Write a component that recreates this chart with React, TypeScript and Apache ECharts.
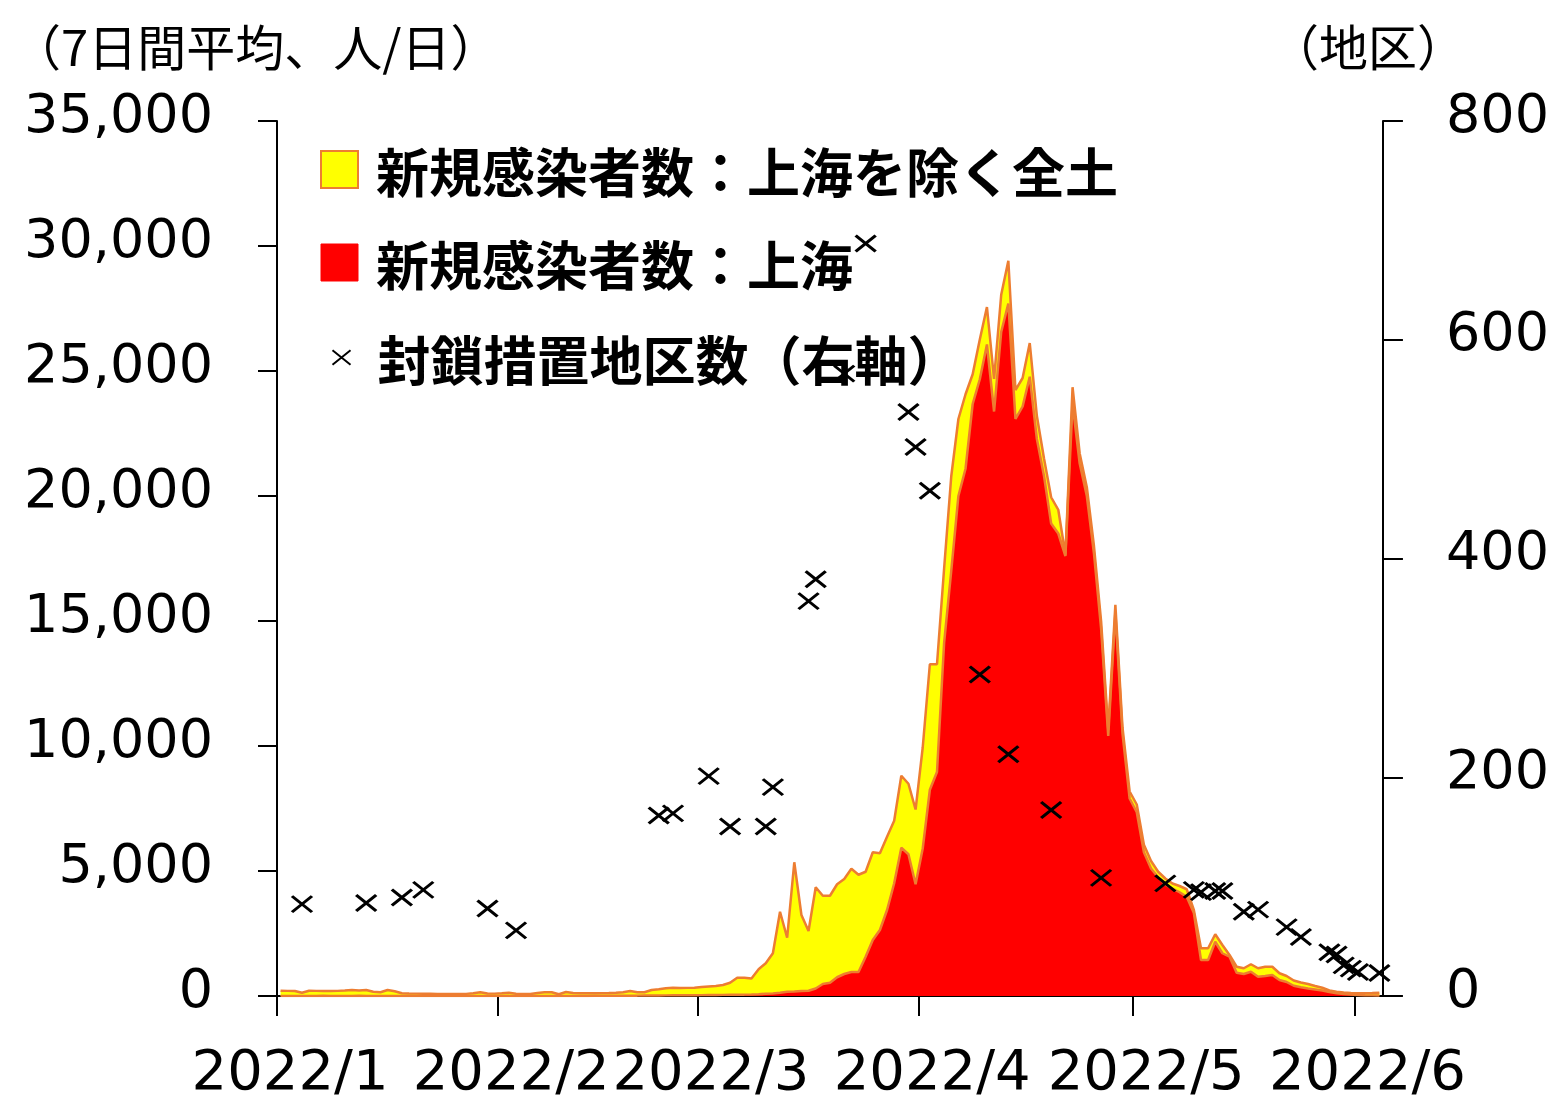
import React, { useEffect, useRef } from "react";
import * as echarts from "echarts";

// Day index 0 = 2022/1/1 ; each daily value sits at the middle of its day
const monthStartDays = [0, 31, 59, 90, 120, 151];
const monthLabels = ["2022/1", "2022/2", "2022/3", "2022/4", "2022/5", "2022/6"];

// 7-day average new cases, whole country (top edge of the stacked areas)
const totalCases = [
  210, 205, 200, 130, 210, 205, 200, 200, 205, 220,
  240, 220, 240, 170, 150, 240, 190, 110, 100, 95,
  90, 90, 85, 85, 85, 80, 85, 110, 150, 100,
  95, 110, 130, 90, 80, 80, 120, 150, 150, 70,
  160, 120, 110, 110, 110, 115, 120, 130, 150, 200,
  150, 150, 240, 270, 310, 330, 320, 325, 330, 360,
  380, 400, 440, 530, 730, 730, 700, 1070, 1310, 1710,
  3370, 2330, 5350, 3240, 2600, 4350, 4010, 4010, 4470, 4680,
  5090, 4850, 4970, 5750, 5710, 6370, 7010, 8810, 8490, 7460,
  9940, 13270, 13270, 17110, 20790, 23080, 24070, 24870, 26260, 27560,
  24680, 28050, 29410, 24240, 24720, 26120, 23200, 21500, 19950, 19450,
  17650, 24350, 21700, 20350, 18000, 15000, 10650, 15650, 10740, 8180,
  7660, 6050, 5400, 4970, 4700, 4500, 4400, 4270, 3440, 1910,
  1910, 2470, 2040, 1640, 1170, 1110, 1270, 1110, 1170, 1170,
  910, 800, 620, 540, 480, 400, 330, 220, 170, 140,
  120, 110, 115, 120, 130,
];

// 7-day average new cases, Shanghai
const shanghaiCases = [
  5, 5, 4, 4, 5, 5, 6, 5, 4, 5,
  5, 6, 5, 4, 4, 5, 5, 4, 3, 3,
  3, 3, 3, 3, 3, 3, 4, 4, 4, 3,
  3, 3, 4, 4, 4, 3, 3, 4, 4, 3,
  4, 4, 5, 5, 6, 6, 8, 10, 12, 15,
  15, 18, 20, 22, 25, 28, 30, 30, 32, 35,
  40, 40, 45, 50, 55, 55, 60, 70, 90, 100,
  130, 170, 180, 200, 210, 300, 480, 530, 750, 880,
  960, 960, 1570, 2240, 2640, 3440, 4510, 5930, 5670, 4470,
  5900, 8250, 8960, 14130, 17010, 20000, 21090, 23680, 24670, 26060,
  23380, 26560, 27700, 23080, 23580, 24770, 22280, 20800, 18900, 18500,
  17600, 23700, 21300, 20000, 17700, 14700, 10400, 15350, 10500, 7900,
  7350, 5750, 5100, 4750, 4450, 4300, 4150, 3970, 3320, 1440,
  1440, 2170, 1710, 1570, 930, 880, 970, 770, 800, 840,
  640, 560, 410, 350, 300, 260, 220, 160, 110, 80,
  60, 40, 30, 25, 20,
];

// Lockdown districts (right axis)
const lockdownDays = [3, 12, 17, 20, 29, 33, 53, 55, 60, 63, 68, 69, 74, 75, 79, 82, 88, 89, 91, 98, 102, 108, 115, 124, 128, 129, 131, 132, 135, 137, 141, 143, 147, 148, 149, 150, 151, 154];
const lockdownCounts = [84, 85, 90, 97, 80, 60, 165, 167, 201, 155, 155, 191, 361, 381, 569, 688, 534, 502, 462, 294, 221, 170, 108, 103, 97, 95, 96, 96, 77, 79, 63, 54, 40, 38, 28, 25, 22, 21];

const nameRest = "新規感染者数：上海を除く全土";
const nameShanghai = "新規感染者数：上海";
const nameLockdown = "封鎖措置地区数（右軸）";

const JP = "'Noto Sans CJK JP', 'Noto Sans', sans-serif";
const NUM = "'DejaVu Sans', Verdana, sans-serif";
const ORANGE = "#ED7D31";
const X_PATH = "path://M0,0L20,16M20,0L0,16";

function buildOption() {
  const axisLineStyle = { color: "#000", width: 2 };
  const legendText = { fontSize: 53, fontWeight: "bold", fontFamily: JP, color: "#000" };
  return {
    animation: false,
    backgroundColor: "#fff",
    grid: { left: 277, right: 168, top: 121, bottom: 105, containLabel: false },
    graphic: [
      {
        type: "text",
        left: 12,
        top: 20,
        style: { text: "（7日間平均、人/日）", font: `49px ${JP}`, fill: "#000" },
      },
      {
        type: "text",
        right: 86,
        top: 20,
        style: { text: "（地区）", font: `49px ${JP}`, fill: "#000" },
      },
    ],
    legend: [
      {
        orient: "vertical",
        left: 315,
        top: 138,
        itemWidth: 37,
        itemHeight: 37,
        itemGap: 40,
        selectedMode: false,
        textStyle: { ...legendText, padding: [0, 0, 0, 13] },
        data: [
          { name: nameRest, icon: "rect", itemStyle: { color: "#FFFF00", borderColor: ORANGE, borderWidth: 2 } },
          { name: nameShanghai, icon: "rect", itemStyle: { color: "#FF0000", borderColor: "#FF0000", borderWidth: 1 } },
        ],
      },
      {
        orient: "vertical",
        left: 325,
        top: 326,
        itemWidth: 18,
        itemHeight: 15,
        selectedMode: false,
        textStyle: { ...legendText, padding: [0, 0, 0, 22] },
        data: [
          { name: nameLockdown, icon: X_PATH, itemStyle: { color: "none", borderColor: "#000", borderWidth: 2, opacity: 1 } },
        ],
      },
    ],
    xAxis: {
      type: "value",
      min: 0,
      max: 155,
      axisLine: { show: true, lineStyle: axisLineStyle },
      axisTick: { show: true, customValues: monthStartDays, length: 20, lineStyle: axisLineStyle },
      axisLabel: {
        customValues: monthStartDays,
        formatter: (v: number) => monthLabels[monthStartDays.indexOf(v)] ?? "",
        fontSize: 56,
        fontFamily: NUM,
        color: "#000",
        margin: 45,
        padding: [0, 0, 0, 26],
      },
      splitLine: { show: false },
    },
    yAxis: [
      {
        type: "value",
        position: "left",
        min: 0,
        max: 35000,
        interval: 5000,
        axisLine: { show: true, lineStyle: axisLineStyle },
        axisTick: { show: true, length: 19, lineStyle: axisLineStyle },
        axisLabel: {
          formatter: (v: number) => v.toLocaleString("en-US"),
          fontSize: 54,
          fontFamily: NUM,
          color: "#000",
          margin: 64,
          verticalAlign: "bottom",
          lineHeight: 16,
        },
        splitLine: { show: false },
      },
      {
        type: "value",
        position: "right",
        min: 0,
        max: 800,
        interval: 200,
        axisLine: { show: true, lineStyle: axisLineStyle },
        axisTick: { show: true, length: 20, lineStyle: axisLineStyle },
        axisLabel: {
          fontSize: 54,
          fontFamily: NUM,
          color: "#000",
          margin: 63,
          verticalAlign: "bottom",
          lineHeight: 16,
        },
        splitLine: { show: false },
      },
    ],
    series: [
      {
        name: nameRest,
        type: "line",
        yAxisIndex: 0,
        data: totalCases.map((v, i) => [i + 0.5, v]),
        showSymbol: false,
        symbol: "none",
        lineStyle: { color: ORANGE, width: 2.5 },
        areaStyle: { color: "#FFFF00", opacity: 1 },
        itemStyle: { color: "#FFFF00" },
        z: 2,
      },
      {
        name: nameShanghai,
        type: "line",
        yAxisIndex: 0,
        data: shanghaiCases.map((v, i) => [i + 0.5, v]),
        showSymbol: false,
        symbol: "none",
        lineStyle: { color: ORANGE, width: 2.5 },
        areaStyle: { color: "#FF0000", opacity: 1 },
        itemStyle: { color: "#FF0000" },
        z: 2,
      },
      {
        name: nameLockdown,
        type: "scatter",
        yAxisIndex: 1,
        data: lockdownDays.map((d, i) => [d + 0.5, lockdownCounts[i]]),
        symbol: X_PATH,
        symbolSize: [20, 16],
        itemStyle: { color: "none", borderColor: "#000", borderWidth: 3, opacity: 1 },
        z: 3,
      },
    ],
  };
}

export default function App() {
  const ref = useRef<HTMLDivElement>(null);
  useEffect(() => {
    if (!ref.current) return;
    const chart = echarts.init(ref.current, null, { renderer: "svg" });
    chart.setOption(buildOption() as any);
    return () => chart.dispose();
  }, []);
  return (
    <div
      ref={ref}
      style={{ position: "absolute", left: 0, top: 0, width: 1552, height: 1101, background: "#fff" }}
    />
  );
}
